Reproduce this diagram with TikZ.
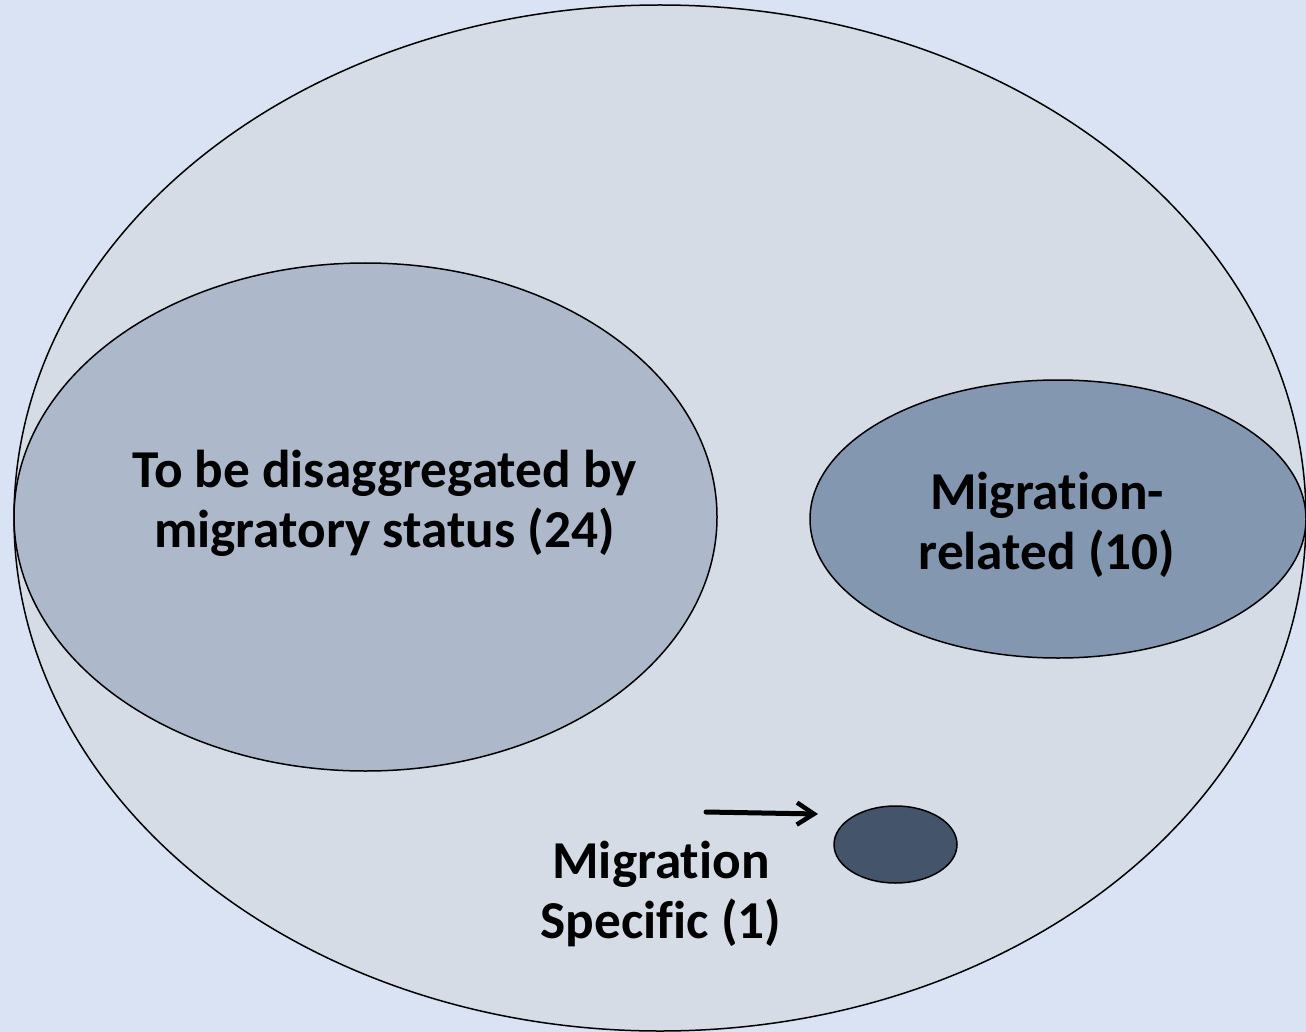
\documentclass[tikz,border=0pt]{standalone}
\usepackage{fontspec}
\setmainfont{Carlito}[RawFeature=-liga]
\usetikzlibrary{arrows.meta}
\definecolor{bgblue}{HTML}{DAE3F3}
\definecolor{outerfill}{HTML}{D6DCE5}
\definecolor{leftfill}{HTML}{ADB9CA}
\definecolor{rightfill}{HTML}{8497B0}
\definecolor{smallfill}{HTML}{44546A}
\tikzset{
  blob/.style={draw=black, line width=1.5pt},
  lbl/.style={align=center, font=\fontsize{53.3}{60}\selectfont\bfseries, text=black, inner sep=0pt},
  pointer/.style={-{Straight Barb[length=17pt,width=22pt,line width=4.5pt]}, line width=5pt, line cap=round}
}
\begin{document}
\begin{tikzpicture}[x=1pt,y=-1pt]
  \fill[bgblue] (0,0) rectangle (1306,1032);
  \useasboundingbox (0,0) rectangle (1306,1032);
  \draw[blob, fill=outerfill] (660,518) ellipse [x radius=646, y radius=513];
  \draw[blob, fill=leftfill] (365.5,517) ellipse [x radius=351.5, y radius=254];
  \draw[blob, fill=rightfill] (1058,519) ellipse [x radius=248, y radius=139];
  \draw[blob, fill=smallfill] (895.5,844.5) ellipse [x radius=61.5, y radius=38.5];
  \node[lbl] (disagg) at (384.5,503) {To be disaggregated by\\migratory status (24)};
  \node[lbl] (related) at (1047,525) {Migration-\\related (10)};
  \node[lbl] (specific) at (661,894) {Migration\\Specific (1)};
  \coordinate (arrstart) at (706,812);
  \coordinate (arrend) at (818,814);
  \draw[pointer] (arrstart) -- (arrend);
\end{tikzpicture}
\end{document}
